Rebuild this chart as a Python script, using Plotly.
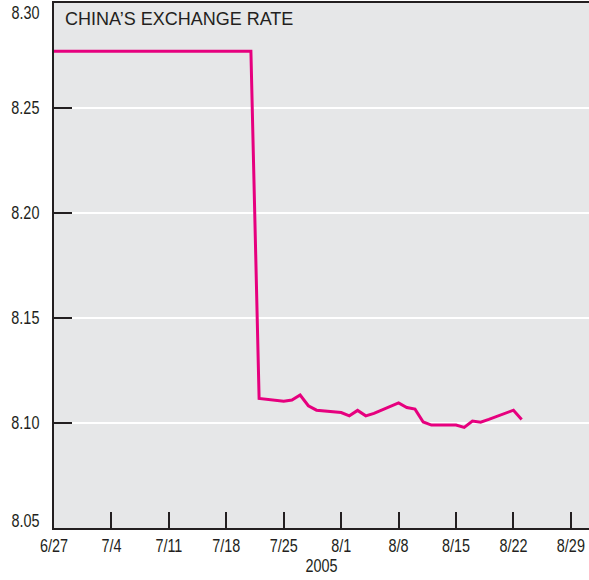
import plotly.graph_objects as go
import pandas as pd

# Yuan per US dollar, business days, summer 2005
dates = (
    list(pd.bdate_range("2005-06-27", "2005-07-21").strftime("%Y-%m-%d"))
    + ["2005-07-22", "2005-07-25", "2005-07-26", "2005-07-27", "2005-07-28",
       "2005-07-29", "2005-08-01", "2005-08-02", "2005-08-03", "2005-08-04",
       "2005-08-05", "2005-08-08", "2005-08-09", "2005-08-10", "2005-08-11",
       "2005-08-12", "2005-08-15", "2005-08-16", "2005-08-17", "2005-08-18",
       "2005-08-19", "2005-08-22", "2005-08-23"]
)
peg_days = len(pd.bdate_range("2005-06-27", "2005-07-21"))
rates = (
    [8.277] * peg_days
    + [8.1117, 8.1104, 8.1109, 8.1133, 8.1082,
       8.1061, 8.1050, 8.1034, 8.1060, 8.1034,
       8.1046, 8.1096, 8.1074, 8.1066, 8.1005,
       8.0990, 8.0990, 8.0979, 8.1009, 8.1004,
       8.1017, 8.1061, 8.1017]
)

x_tickvals = ["2005-06-27", "2005-07-04", "2005-07-11", "2005-07-18", "2005-07-25",
              "2005-08-01", "2005-08-08", "2005-08-15", "2005-08-22", "2005-08-29"]
x_ticktext = ["6/27", "7/4", "7/11", "7/18", "7/25", "8/1", "8/8", "8/15", "8/22", "8/29"]
y_tickvals = [8.10, 8.15, 8.20, 8.25]
y_ticktext = ["8.10", "8.15", "8.20", "8.25"]
# end labels sit just inside the axis corners
y_edge_vals = [8.05, 8.30]
y_edge_text = ["8.05", "8.30"]

INK = "#231f20"
SANS = "Liberation Sans, Arial, sans-serif"
tick_font = dict(family=SANS, size=18, color=INK)

fig = go.Figure(
    go.Scatter(
        x=dates, y=rates, mode="lines",
        line=dict(color="#e6007e", width=3),
        hoverinfo="skip",
    )
)

edge_notes = [
    dict(
        text=t, xref="paper", yref="y", x=0, y=v,
        xanchor="right", yanchor="middle",
        xshift=-9, yshift=(-10 if v > 8.2 else 7),
        showarrow=False, font=tick_font,
    )
    for v, t in zip(y_edge_vals, y_edge_text)
]

fig.update_layout(
    width=589, height=580,
    margin=dict(l=54, r=0, t=3, b=52),
    paper_bgcolor="white",
    plot_bgcolor="#e6e7e8",
    showlegend=False,
    xaxis=dict(
        type="date",
        range=["2005-06-27", "2005-08-31 05:00"],
        tickvals=x_tickvals, ticktext=x_ticktext,
        ticks="inside", ticklen=16, tickwidth=2, tickcolor=INK,
        showline=True, linecolor=INK, linewidth=2, mirror=True,
        showgrid=False, zeroline=False,
        tickfont=tick_font,
        title=dict(text="2005", font=tick_font, standoff=5),
    ),
    yaxis=dict(
        range=[8.05, 8.30],
        tickvals=y_tickvals, ticktext=y_ticktext,
        ticks="inside", ticklen=18, tickwidth=2, tickcolor=INK,
        showline=True, linecolor=INK, linewidth=2,
        showgrid=True, gridcolor="white", gridwidth=2,
        zeroline=False,
        tickfont=tick_font,
        ticklabelstandoff=9,
    ),
    annotations=[
        dict(
            text="CHINA\u2019S EXCHANGE RATE",
            xref="paper", yref="paper", x=0, y=1,
            xanchor="left", yanchor="top", xshift=9, yshift=-4,
            showarrow=False,
            font=dict(family=SANS, size=18, color=INK),
        )
    ] + edge_notes,
)

# Axis numbers are set in a narrow cut: squeeze each label horizontally.
narrow_js = """
var gd = document.getElementById('{plot_id}');
function narrow() {
  var sel = '.xtick text, .ytick text, .g-xtitle text, ' +
            '.annotation[data-index="1"] text, .annotation[data-index="2"] text';
  gd.querySelectorAll(sel).forEach(function (t) {
    if (t.getAttribute('data-narrow')) return;
    var w = t.getComputedTextLength();
    t.setAttribute('textLength', (w * 0.8).toFixed(2));
    t.setAttribute('lengthAdjust', 'spacingAndGlyphs');
    t.setAttribute('data-narrow', '1');
  });
}
narrow();
gd.on('plotly_afterplot', narrow);
"""

fig.write_html("out.html", post_script=narrow_js)
